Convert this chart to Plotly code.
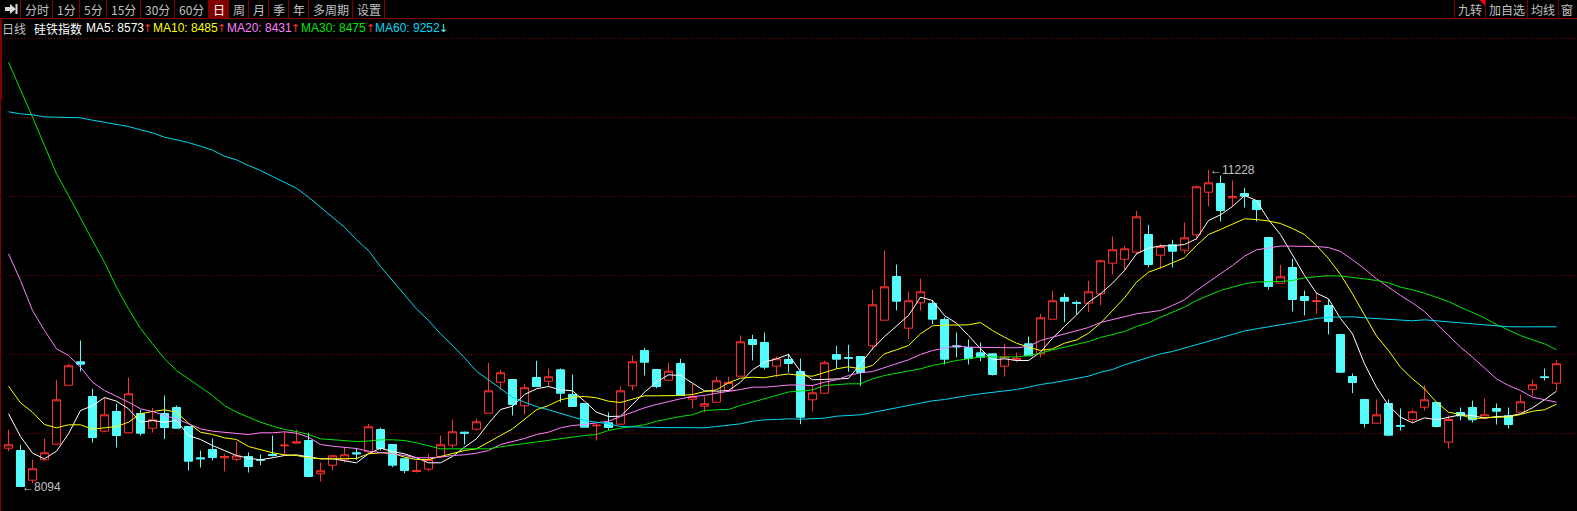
import plotly.graph_objects as go

opens = [8473,8450,8153,8357,8513,9103,9337,8990,8643,8840,8627,8820,8673,8820,8880,8690,8377,8460,8377,8363,8390,8360,8410,8497,8523,8550,8217,8303,8357,8427,8437,8660,8510,8367,8240,8263,8390,8503,8633,8663,8823,9133,9160,8897,9180,9143,9257,9010,8920,8697,8727,8713,9097,9450,9260,9153,9320,8963,8893,8933,9050,9193,9560,9530,9293,9360,9240,8957,9023,9410,9380,9390,9497,9753,10190,9673,9927,9920,9760,9497,9480,9427,9417,9293,9357,9517,9417,9763,9980,9930,9923,10017,10323,10363,10433,10610,10403,10507,10453,10607,11033,11120,10977,11020,10950,10580,10123,10280,9990,9940,9900,9610,9190,8960,8723,8920,8700,8760,8883,8930,8533,8830,8880,8777,8870,8797,8833,9063,9187,9123]
closes = [8507,8090,8267,8427,8957,9297,9313,8580,8807,8600,9017,8623,8757,8680,8673,8343,8367,8380,8390,8397,8290,8353,8400,8503,8537,8190,8247,8397,8407,8417,8687,8470,8303,8250,8250,8360,8507,8637,8623,8737,9047,9227,8910,9077,9090,9187,9023,8890,8683,8703,8680,9047,9337,9333,9090,9243,9000,8990,8917,9147,9130,9537,9510,9283,9367,9320,8783,9027,9327,9363,9373,9230,9907,10087,9943,9947,10037,9763,9363,9487,9370,9383,9210,9387,9373,9397,9777,9947,9943,9923,10037,10347,10457,10467,10787,10310,10490,10443,10577,11087,11127,10850,10990,10993,10860,10090,10187,9960,9950,9947,9740,9233,9130,8720,8807,8603,8693,8837,8957,8690,8760,8797,8757,8807,8843,8710,8937,9107,9180,9317]
highs = [8660,8507,8357,8570,9157,9317,9550,9067,8983,8917,9180,8857,8877,9000,8900,8690,8450,8570,8417,8540,8430,8410,8600,8633,8660,8627,8330,8407,8477,8477,8717,8677,8510,8377,8350,8417,8600,8760,8640,8767,9327,9257,9160,9117,9347,9270,9270,9210,8920,8717,8830,9090,9400,9477,9260,9327,9367,9117,8990,9187,9187,9600,9607,9630,9390,9417,9370,9100,9347,9497,9507,9390,10057,10450,10310,10040,10170,9957,9783,9630,9560,9530,9423,9517,9430,9590,9817,10047,10020,9950,10147,10357,10590,10497,10847,10707,10517,10557,10730,11100,11257,11200,11150,11077,10950,10580,10307,10367,10050,10027,9957,9610,9220,8960,8960,8960,8870,8860,9100,8930,8800,8880,8950,8970,8920,8880,9010,9160,9270,9350]
lows = [8443,8090,8123,8357,8513,9103,9240,8530,8633,8480,8627,8600,8630,8563,8673,8250,8280,8350,8240,8343,8230,8303,8390,8410,8523,8183,8140,8250,8330,8357,8417,8450,8283,8223,8230,8243,8377,8477,8510,8650,8823,9057,8800,8810,9090,9090,8933,8890,8683,8550,8657,8713,9050,9200,9073,9150,9000,8870,8830,8933,9040,9193,9350,9260,9183,9230,8713,8840,9023,9267,9237,9093,9457,9753,9850,9563,9850,9713,9310,9383,9310,9343,9200,9190,9333,9397,9380,9763,9733,9810,9833,9903,10213,10250,10413,10280,10267,10280,10420,10557,10893,10740,10890,10880,10740,10057,10123,9840,9800,9817,9610,9223,9023,8680,8723,8593,8650,8733,8850,8680,8470,8750,8730,8767,8710,8670,8833,8997,9150,9050]

ma5 = [8817,8590,8423,8367,8443,8617,8850,8897,8980,8943,8867,8733,8750,8733,8750,8600,8560,8500,8450,8400,8373,8357,8377,8400,8407,8390,8367,8367,8350,8327,8417,8473,8440,8417,8377,8327,8327,8390,8483,8567,8720,8860,8893,9010,9067,9090,9057,9047,8943,8833,8790,8793,8910,9033,9133,9207,9200,9123,9047,9043,9050,9133,9257,9333,9367,9410,9240,9157,9163,9163,9170,9317,9467,9590,9700,9800,9983,9950,9800,9723,9600,9467,9357,9367,9350,9350,9433,9573,9690,9805,9933,10017,10123,10250,10417,10473,10497,10497,10510,10567,10750,10807,10890,11000,10950,10757,10610,10400,10200,10023,9967,9770,9617,9317,9083,8900,8783,8727,8777,8757,8783,8807,8800,8773,8790,8793,8817,8877,8957,9043]
ma10 = [9093,8927,8833,8710,8677,8707,8707,8663,8677,8690,8733,8817,8840,8857,8833,8723,8633,8610,8577,8560,8490,8460,8427,8407,8400,8377,8367,8367,8367,8370,8417,8427,8423,8383,8360,8360,8390,8423,8450,8467,8530,8600,8667,8760,8857,8900,8957,8983,8990,8977,8943,8930,8960,8997,8997,8997,9000,9010,9040,9057,9127,9173,9183,9177,9200,9215,9200,9193,9233,9267,9287,9267,9300,9417,9457,9500,9617,9697,9703,9703,9707,9730,9650,9583,9523,9483,9450,9467,9523,9555,9623,9723,9850,9977,10133,10233,10277,10327,10377,10500,10610,10660,10710,10767,10760,10745,10720,10670,10610,10500,10370,10210,10017,9800,9595,9450,9283,9167,9067,8933,8833,8810,8767,8777,8780,8787,8810,8843,8857,8913]
ma20 = [10417,10150,9850,9650,9467,9400,9283,9133,9050,8993,8933,8867,8840,8800,8767,8717,8667,8643,8633,8627,8610,8627,8627,8637,8623,8583,8510,8493,8480,8470,8443,8433,8417,8400,8377,8377,8383,8400,8407,8423,8450,8510,8540,8570,8610,8633,8677,8700,8710,8723,8743,8790,8833,8877,8910,8940,8967,8990,9000,9023,9040,9060,9083,9083,9093,9105,9105,9100,9133,9157,9200,9227,9240,9277,9317,9357,9410,9450,9473,9497,9483,9483,9477,9477,9477,9490,9550,9583,9617,9645,9680,9730,9757,9783,9817,9833,9850,9900,9957,10050,10133,10217,10300,10393,10457,10475,10495,10493,10493,10490,10480,10440,10357,10267,10167,10083,10000,9925,9840,9717,9600,9483,9383,9275,9167,9100,9050,8983,8957,8933]
ma30 = [12333,12067,11783,11500,11217,11000,10767,10550,10333,10083,9867,9670,9517,9367,9250,9167,9083,9000,8900,8833,8783,8733,8693,8660,8640,8610,8567,8560,8550,8540,8545,8557,8557,8550,8527,8500,8467,8467,8467,8467,8467,8487,8503,8520,8540,8557,8573,8590,8600,8610,8650,8673,8690,8707,8743,8767,8790,8807,8850,8857,8860,8900,8933,8973,9000,9035,9045,9057,9100,9110,9117,9117,9167,9200,9223,9250,9267,9300,9327,9350,9367,9387,9387,9383,9387,9400,9423,9457,9483,9512,9540,9580,9610,9640,9690,9727,9783,9833,9883,9950,10000,10050,10083,10117,10135,10135,10140,10150,10177,10188,10197,10195,10183,10167,10150,10127,10083,10057,10023,9983,9940,9883,9833,9777,9710,9657,9600,9557,9517,9457]
ma60 = [11837,11817,11807,11787,11783,11777,11777,11753,11733,11710,11690,11657,11627,11583,11557,11530,11493,11453,11393,11357,11300,11250,11190,11133,11073,10983,10883,10790,10683,10557,10450,10290,10150,10000,9867,9750,9617,9500,9377,9243,9157,9067,8983,8933,8890,8857,8823,8790,8750,8733,8717,8690,8683,8683,8680,8680,8677,8677,8677,8690,8700,8717,8743,8757,8760,8767,8763,8767,8773,8793,8800,8807,8830,8850,8877,8900,8927,8947,8960,8983,9000,9017,9030,9050,9060,9083,9110,9127,9150,9175,9193,9233,9260,9307,9343,9377,9417,9440,9473,9510,9543,9577,9610,9645,9667,9690,9707,9727,9750,9770,9783,9787,9787,9777,9770,9760,9757,9747,9757,9750,9737,9727,9717,9703,9697,9687,9687,9687,9687,9687]
days = list(range(len(closes)))

grid_levels = [12567, 11780, 10995, 10205, 9415, 8625]
low_label = "8094"
high_label = "11228"
low_day = 1
high_day = 100

left_tabs = ["分时", "1分", "5分", "15分", "30分", "60分", "日", "周", "月", "季", "年", "多周期", "设置"]
right_tabs = ["九转", "加自选", "均线", "窗"]
ma_labels = ["MA5: 8573", "MA10: 8485", "MA20: 8431", "MA30: 8475", "MA60: 9252"]
ma_arrows = ["↑", "↑", "↑", "↑", "↓"]

W, H = 1577, 511
RED = "#ff3232"
CYAN = "#54fcfc"
DARK = "#800000"
GREY = "#c0c0c0"
ma_colors = ["#ffffff", "#ffff00", "#ff80ff", "#00e600", "#00d8f0"]
CJK = "Noto Sans CJK SC"
LAT = "Liberation Sans"


def px(x):
    return x / W


def py(y):
    return 1 - y / H


fig = go.Figure()
fig.add_trace(go.Candlestick(
    x=days, open=opens, high=highs, low=lows, close=closes,
    increasing=dict(line=dict(color=RED, width=1), fillcolor="#000000"),
    decreasing=dict(line=dict(color=CYAN, width=1), fillcolor=CYAN),
    whiskerwidth=0, hoverinfo="skip", showlegend=False,
))
for name, vals, col in zip(["MA5", "MA10", "MA20", "MA30", "MA60"], [ma5, ma10, ma20, ma30, ma60], ma_colors):
    fig.add_trace(go.Scatter(x=days, y=vals, mode="lines", name=name,
                             line=dict(color=col, width=1), hoverinfo="skip", showlegend=False))

shapes = []


def rect(x0, y0, x1, y1, color):
    shapes.append(dict(type="rect", xref="paper", yref="paper", x0=px(x0), x1=px(x1), y0=py(y0), y1=py(y1),
                       fillcolor=color, line=dict(width=0), layer="above"))


def hv(x0, y0, x1, y1, color=DARK):
    shapes.append(dict(type="line", xref="paper", yref="paper", x0=px(x0), x1=px(x1), y0=py(y0), y1=py(y1),
                       line=dict(color=color, width=1), layer="above"))


annots = []


def text(x, y, s, color=GREY, font=CJK, size=12, anchor="center"):
    annots.append(dict(xref="paper", yref="paper", x=px(x), y=py(y), text=s, showarrow=False,
                       xanchor=anchor, yanchor="middle", align=anchor,
                       font=dict(color=color, family=font, size=size),
                       borderpad=0, borderwidth=0))


# plot left gutter and frame
rect(0, 19, 4, H, "#000000")
rect(0, 19, 2, 100, DARK)
rect(0, 100, 1, H, DARK)
hv(0, 18.5, W, 18.5)

# left toolbar
edges = [20.5, 52.5, 79.5, 106.5, 140.5, 174.5, 208.5, 228.5, 248.5, 268.5, 288.5, 308.5, 352.5, 384.5]
rect(edges[6], 0, edges[7], 18, DARK)
for e in edges:
    hv(e, 0, e, 18)
for a, b, s in zip(edges[:-1], edges[1:], left_tabs):
    text((a + b) / 2, 9.5, s, color="#ffffff" if s == "日" else GREY)
shapes.append(dict(type="path", xref="paper", yref="paper", layer="above",
                   path="M %f,%f L %f,%f L %f,%f L %f,%f L %f,%f L %f,%f L %f,%f Z" % (
                       px(5), py(7), px(10), py(7), px(10), py(4), px(16), py(9),
                       px(10), py(14), px(10), py(11), px(5), py(11)),
                   fillcolor="#d8d8d8", line=dict(width=0)))
rect(15.5, 4, 17.5, 14, "#d8d8d8")

# right toolbar
r_edges = [1454.5, 1485.5, 1527.5, 1558.5, 1577]
for e in r_edges[:-1]:
    hv(e, 0, e, 18)
for a, b, s in zip(r_edges[:-1], r_edges[1:], right_tabs):
    text((a + b) / 2 - (1 if s == "窗" else 0), 9.5, s)
shapes.append(dict(type="path", xref="paper", yref="paper", layer="above",
                   path="M %f,%f L %f,%f L %f,%f Z" % (px(1479.5), py(0), px(1485), py(0), px(1485), py(5.5)),
                   fillcolor="#ff0000", line=dict(width=0)))

# header row
text(2, 28.5, "日线", anchor="left")
text(34, 28.5, "硅铁指数", color="#ffffff", anchor="left")
ma_x = [86, 153.3, 227.3, 301.3, 375]
ar_x = [143.3, 217.3, 291.3, 365.5, 439]
for lab, ar, col, x0, x1 in zip(ma_labels, ma_arrows, ma_colors, ma_x, ar_x):
    text(x0, 28.5, lab, color=col, font=LAT, anchor="left")
    text(x1, 28.5, ar, color=RED if ar == "↑" else CYAN, font="DejaVu Sans", size=11, anchor="left")

# extreme labels
for day, val, lab in [(low_day, closes[low_day], low_label), (high_day, highs[high_day], high_label)]:
    annots.append(dict(x=day, y=val, xref="x", yref="y", text="←" + lab, showarrow=False, xanchor="left",
                       yanchor="middle", xshift=0, borderpad=0,
                       font=dict(color=GREY, family=LAT, size=12)))

fig.update_layout(
    width=W, height=H, margin=dict(l=0, r=0, t=0, b=0, pad=0), autosize=False,
    paper_bgcolor="#000000", plot_bgcolor="#000000", boxgap=0.33, boxgroupgap=0, showlegend=False, hovermode=False,
    shapes=shapes, annotations=annots,
    xaxis=dict(range=[(0 - 8.5) / 12, (W - 8.5) / 12], visible=False, rangeslider=dict(visible=False),
               showgrid=False, zeroline=False, fixedrange=True),
    yaxis=dict(range=[12955 - 5110, 12955], showticklabels=False, ticks="", showline=False, zeroline=False,
               tickmode="array", tickvals=grid_levels, showgrid=True, gridcolor="#8b0000", gridwidth=1,
               griddash="1px,2px", fixedrange=True),
)

fig.write_html("out.html", config={"displayModeBar": False},
               post_script="document.body.style.margin='0';document.documentElement.style.overflow='hidden';")
